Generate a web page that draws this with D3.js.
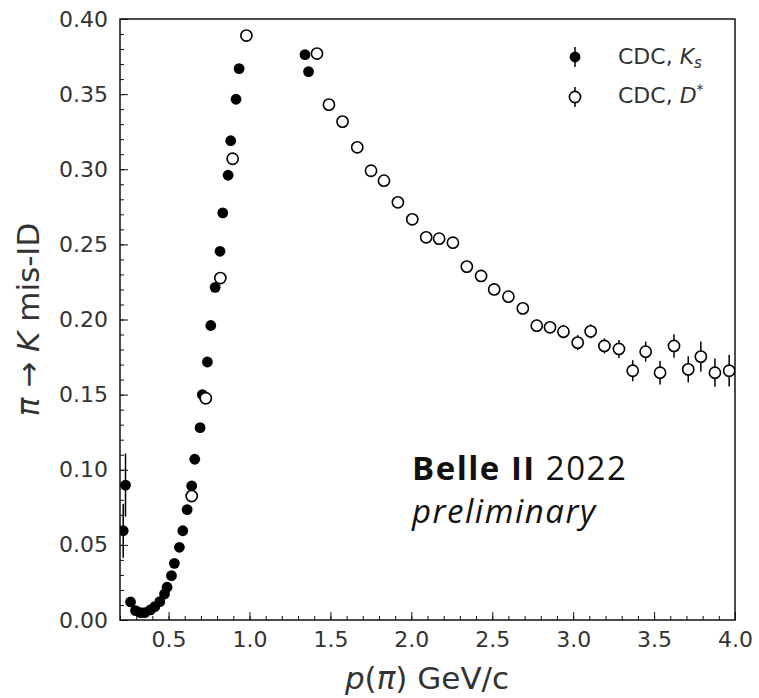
<!DOCTYPE html>
<html>
<head>
<meta charset="utf-8">
<script src="https://cdn.jsdelivr.net/npm/d3@7"></script>
<style>
  body { margin: 0; background: #fff; }
  svg { display: block; }
  .tick text { fill: #333; font-family: "DejaVu Sans", sans-serif; }
</style>
</head>
<body>
<script>
var width = 759, height = 698;

// K_S sample (filled markers)
var ksP   = [0.22, 0.234, 0.265, 0.296, 0.327, 0.353, 0.388, 0.415, 0.446, 0.475, 0.491, 0.518, 0.536, 0.567, 0.588, 0.615, 0.643, 0.662, 0.695, 0.709, 0.740, 0.761, 0.788, 0.818, 0.835, 0.868, 0.884, 0.917, 0.936, 1.343, 1.365];
var ksVal = [0.0594, 0.0898, 0.0120, 0.0062, 0.0049, 0.0049, 0.0067, 0.0089, 0.0122, 0.0173, 0.0218, 0.0295, 0.0377, 0.0484, 0.0594, 0.0735, 0.0893, 0.107, 0.128, 0.150, 0.1717, 0.196, 0.2214, 0.2454, 0.271, 0.296, 0.319, 0.3466, 0.367, 0.3763, 0.365];
var ksErr = [0.018, 0.021, 0.002, 0.001, 0.001, 0.001, 0.001, 0.001, 0.001, 0.001, 0.001, 0.001, 0.001, 0.001, 0.001, 0.001, 0.001, 0.001, 0.001, 0.001, 0.001, 0.001, 0.001, 0.001, 0.001, 0.001, 0.001, 0.001, 0.001, 0.002, 0.002];

// D* sample (open markers)
var dsP   = [0.643, 0.730, 0.820, 0.896, 0.981, 1.417, 1.491, 1.575, 1.666, 1.751, 1.831, 1.917, 2.006, 2.092, 2.172, 2.257, 2.343, 2.431, 2.512, 2.600, 2.689, 2.775, 2.857, 2.940, 3.028, 3.108, 3.193, 3.283, 3.368, 3.448, 3.537, 3.623, 3.711, 3.789, 3.876, 3.964];
var dsVal = [0.0825, 0.1476, 0.2276, 0.307, 0.389, 0.377, 0.343, 0.3317, 0.3146, 0.299, 0.2924, 0.278, 0.2667, 0.2547, 0.2538, 0.2511, 0.2352, 0.229, 0.220, 0.2152, 0.2074, 0.1959, 0.1948, 0.1919, 0.1846, 0.1921, 0.1824, 0.1804, 0.1659, 0.1786, 0.1646, 0.1824, 0.1668, 0.1753, 0.1646, 0.1659];
var dsErr = [0.002, 0.002, 0.002, 0.002, 0.002, 0.002, 0.002, 0.002, 0.002, 0.002, 0.002, 0.002, 0.002, 0.002, 0.002, 0.002, 0.003, 0.003, 0.003, 0.003, 0.0035, 0.004, 0.004, 0.0045, 0.005, 0.0047, 0.005, 0.006, 0.007, 0.0067, 0.0078, 0.0078, 0.0087, 0.010, 0.0094, 0.0105];

var xTicks = [0.5, 1.0, 1.5, 2.0, 2.5, 3.0, 3.5, 4.0];
var yTicks = [0.00, 0.05, 0.10, 0.15, 0.20, 0.25, 0.30, 0.35, 0.40];

var ks = ksP.map(function(p, i) { return {p: p, v: ksVal[i], e: ksErr[i]}; });
var ds = dsP.map(function(p, i) { return {p: p, v: dsVal[i], e: dsErr[i]}; });

var plotL = 120, plotR = 735, plotT = 19, plotB = 620;

var x = d3.scaleLinear().domain([0.2, 4.0]).range([plotL, plotR]);
var y = d3.scaleLinear().domain([0, 0.4]).range([plotB, plotT]);

var svg = d3.select("body").append("svg")
    .attr("width", width)
    .attr("height", height);

svg.append("defs").append("clipPath")
    .attr("id", "plotclip")
    .append("rect")
    .attr("x", plotL).attr("y", plotT)
    .attr("width", plotR - plotL).attr("height", plotB - plotT);

// minor ticks
var xMinor = d3.range(2, 41).map(function(d) { return d / 10; });
var yMinor = d3.range(0, 41).map(function(d) { return d / 100; });

svg.append("g")
    .attr("transform", "translate(0," + plotB + ")")
    .call(d3.axisBottom(x).tickValues(xMinor).tickSize(-4).tickFormat(""))
    .call(function(g) { g.select(".domain").remove(); });
svg.append("g")
    .attr("transform", "translate(" + plotL + ",0)")
    .call(d3.axisLeft(y).tickValues(yMinor).tickSize(-4).tickFormat(""))
    .call(function(g) { g.select(".domain").remove(); });

// major ticks + labels
var xAxis = svg.append("g")
    .attr("transform", "translate(0," + plotB + ")")
    .call(d3.axisBottom(x).tickValues(xTicks).tickSizeInner(-8).tickSizeOuter(0)
        .tickPadding(11).tickFormat(d3.format(".1f")));
xAxis.select(".domain").remove();
xAxis.selectAll("text").style("font-size", "22px");

var yAxis = svg.append("g")
    .attr("transform", "translate(" + plotL + ",0)")
    .call(d3.axisLeft(y).tickValues(yTicks).tickSizeInner(-8).tickSizeOuter(0)
        .tickPadding(12).tickFormat(d3.format(".2f")));
yAxis.select(".domain").remove();
yAxis.selectAll("text").style("font-size", "22px");

svg.selectAll(".tick line").attr("stroke", "#111");

// frame
svg.append("rect")
    .attr("x", plotL).attr("y", plotT)
    .attr("width", plotR - plotL).attr("height", plotB - plotT)
    .attr("fill", "none")
    .attr("stroke", "#111")
    .attr("stroke-width", 1.5);

var plot = svg.append("g").attr("clip-path", "url(#plotclip)");

// K_S points
plot.selectAll(".ks-err")
    .data(ks).enter().append("line")
    .attr("class", "ks-err")
    .attr("x1", function(d) { return x(d.p); })
    .attr("x2", function(d) { return x(d.p); })
    .attr("y1", function(d) { return y(d.v - d.e); })
    .attr("y2", function(d) { return y(d.v + d.e); })
    .attr("stroke", "#000").attr("stroke-width", 1.5);

plot.selectAll(".ks")
    .data(ks).enter().append("circle")
    .attr("class", "ks")
    .attr("cx", function(d) { return x(d.p); })
    .attr("cy", function(d) { return y(d.v); })
    .attr("r", 5.4)
    .attr("fill", "#000");

// D* points
plot.selectAll(".ds-err")
    .data(ds).enter().append("line")
    .attr("class", "ds-err")
    .attr("x1", function(d) { return x(d.p); })
    .attr("x2", function(d) { return x(d.p); })
    .attr("y1", function(d) { return y(d.v - d.e); })
    .attr("y2", function(d) { return y(d.v + d.e); })
    .attr("stroke", "#000").attr("stroke-width", 1.5);

plot.selectAll(".ds")
    .data(ds).enter().append("circle")
    .attr("class", "ds")
    .attr("cx", function(d) { return x(d.p); })
    .attr("cy", function(d) { return y(d.v); })
    .attr("r", 5.6)
    .attr("fill", "#fff")
    .attr("stroke", "#000")
    .attr("stroke-width", 1.6);

// legend
var legend = svg.append("g").attr("font-family", "DejaVu Sans, sans-serif").attr("fill", "#333");
legend.append("line").attr("x1", 575).attr("x2", 575).attr("y1", 47).attr("y2", 67)
    .attr("stroke", "#000").attr("stroke-width", 1.5);
legend.append("circle").attr("cx", 575).attr("cy", 57).attr("r", 5.4).attr("fill", "#000");
legend.append("line").attr("x1", 575).attr("x2", 575).attr("y1", 87).attr("y2", 107)
    .attr("stroke", "#000").attr("stroke-width", 1.5);
legend.append("circle").attr("cx", 575).attr("cy", 97).attr("r", 5.6)
    .attr("fill", "#fff").attr("stroke", "#000").attr("stroke-width", 1.6);

var l1 = legend.append("text").attr("x", 618).attr("y", 64).style("font-size", "22px");
l1.append("tspan").text("CDC, ");
l1.append("tspan").style("font-style", "italic").text("K");
l1.append("tspan").style("font-style", "italic").style("font-size", "15px").attr("dy", 4).text("s");

var l2 = legend.append("text").attr("x", 618).attr("y", 103).style("font-size", "22px");
l2.append("tspan").text("CDC, ");
l2.append("tspan").style("font-style", "italic").text("D");
l2.append("tspan").style("font-size", "14px").attr("dy", -9).text("*");

// axis titles
var xl = svg.append("text")
    .attr("x", 427).attr("y", 689)
    .attr("text-anchor", "middle")
    .attr("font-family", "DejaVu Sans, sans-serif")
    .attr("fill", "#333")
    .style("font-size", "31px");
xl.append("tspan").style("font-style", "italic").text("p");
xl.append("tspan").text("(");
xl.append("tspan").style("font-style", "italic").text("π");
xl.append("tspan").text(") GeV/c");

var yl = svg.append("text")
    .attr("transform", "translate(39," + ((plotT + plotB) / 2) + ") rotate(-90)")
    .attr("text-anchor", "middle")
    .attr("font-family", "DejaVu Sans, sans-serif")
    .attr("fill", "#333")
    .style("font-size", "31px");
yl.append("tspan").style("font-style", "italic").text("π");
yl.append("tspan").text(" → ");
yl.append("tspan").style("font-style", "italic").text("K");
yl.append("tspan").text(" mis-ID");

// Belle II label
var b1 = svg.append("text")
    .attr("x", 412).attr("y", 480)
    .attr("font-family", "Open Sans, sans-serif")
    .attr("fill", "#111")
    .style("font-size", "33px")
    .style("letter-spacing", "1.5px");
b1.append("tspan").style("font-weight", "bold").text("Belle II");
b1.append("tspan").text(" 2022");

svg.append("text")
    .attr("x", 412).attr("y", 523)
    .attr("font-family", "Open Sans, sans-serif")
    .attr("fill", "#111")
    .style("font-size", "33px")
    .style("font-style", "italic")
    .style("letter-spacing", "1.5px")
    .text("preliminary");
</script>
</body>
</html>
